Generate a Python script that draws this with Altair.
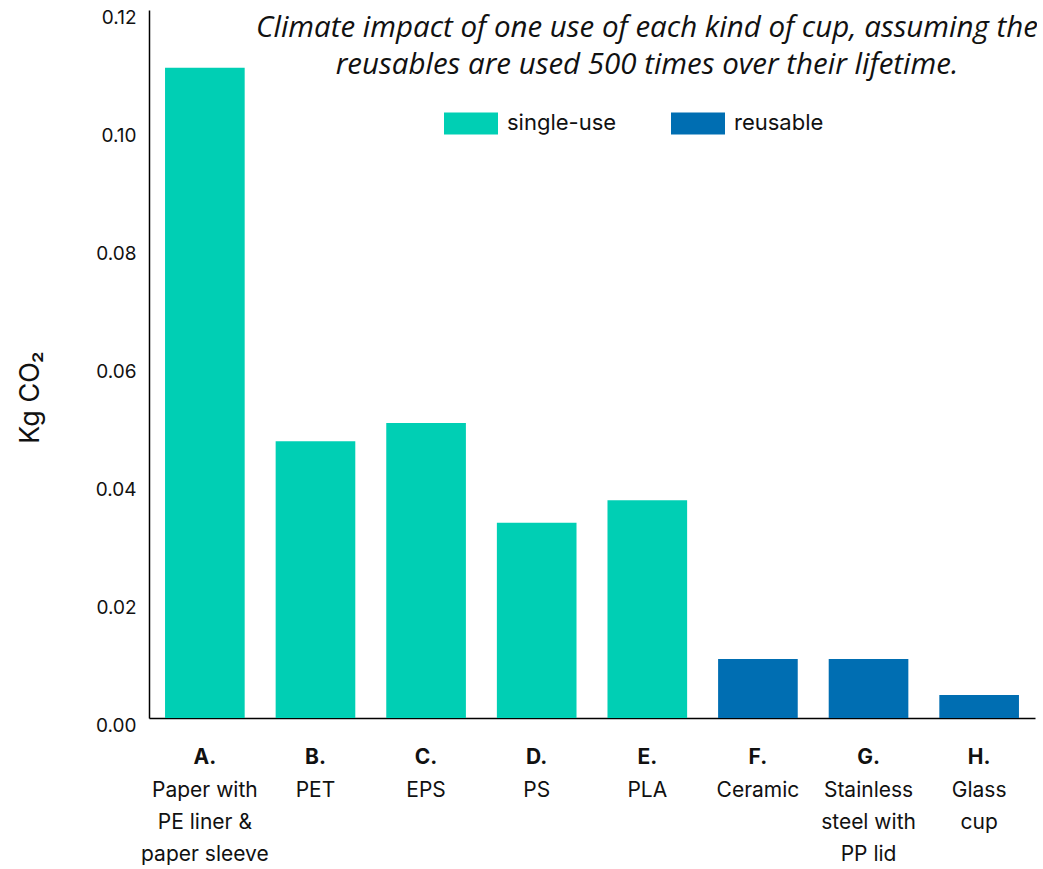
import altair as alt
import pandas as pd

letters = ["A.", "B.", "C.", "D.", "E.", "F.", "G.", "H."]
names = [
    "Paper with\nPE liner &\npaper sleeve",
    "PET",
    "EPS",
    "PS",
    "PLA",
    "Ceramic",
    "Stainless\nsteel with\nPP lid",
    "Glass\ncup",
]
kinds = ["single-use"] * 5 + ["reusable"] * 3
values = [0.1102, 0.0469, 0.0500, 0.0331, 0.0369, 0.0100, 0.0100, 0.0039]

df = pd.DataFrame({"letter": letters, "name": names, "kind": kinds, "value": values})

W, H = 886, 708
FONT = "Inter"

x = alt.X(
    "name:N",
    sort=names,
    scale=alt.Scale(paddingInner=0.28, paddingOuter=0.145),
    axis=alt.Axis(
        title=None,
        labelExpr="split(datum.label, '\\n')",
        labelAngle=0,
        labelPadding=61,
        labelFontSize=21,
        labelFont=FONT,
        labelColor="#111111",
        labelLineHeight=32,
        labelBaseline="top",
        ticks=False,
        domainColor="#000000",
        domainWidth=1.5,
        labelLimit=200,
    ),
)

bars = alt.Chart(df).mark_bar().encode(
    x=x,
    y=alt.Y(
        "value:Q",
        scale=alt.Scale(domain=[0, 0.12]),
        axis=alt.Axis(
            title="Kg CO₂",
            values=[0, 0.02, 0.04, 0.06, 0.08, 0.10, 0.12],
            format=".2f",
            grid=False,
            ticks=False,
            domainColor="#000000",
            domainWidth=1.5,
            labelFontSize=19,
            labelFont=FONT,
            labelColor="#111111",
            labelPadding=13,
            labelOffset=7,
            titleFont=FONT,
            titleFontSize=27,
            titleFontWeight="normal",
            titleColor="#111111",
            titleX=-119,
            titleY=387,
            titleAngle=270,
            titleAlign="center",
            titleBaseline="middle",
        ),
    ),
    color=alt.Color(
        "kind:N",
        scale=alt.Scale(domain=["single-use", "reusable"], range=["#00CFB4", "#006EB2"]),
        legend=alt.Legend(
            title=None,
            orient="none",
            direction="horizontal",
            legendX=295,
            legendY=86,
            symbolType="M-1,-0.41H1V0.41H-1Z",
            symbolSize=2916,
            symbolStrokeWidth=0,
            symbolOpacity=1,
            labelFont=FONT,
            labelFontSize=22,
            labelColor="#111111",
            labelOffset=9,
            columnPadding=54,
        ),
    ),
)

letter_text = alt.Chart(df).mark_text(
    font=FONT, fontSize=21, fontWeight="bold", color="#111111", baseline="middle"
).encode(
    x=alt.X("name:N", sort=names),
    y=alt.value(H + 40),
    text="letter:N",
)

chart = (
    alt.layer(bars, letter_text)
    .properties(
        width=W,
        height=H,
        title=alt.TitleParams(
            text=[
                "Climate impact of one use of each kind of cup, assuming the",
                "reusables are used 500 times over their lifetime.",
            ],
            font="Open Sans",
            fontSize=29.5,
            fontStyle="italic",
            fontWeight="normal",
            color="#111111",
            anchor="middle",
            baseline="top",
            lineHeight=37,
            dx=55,
            dy=76,
            orient="top",
            frame="group",
        ),
        autosize=alt.AutoSizeParams(type="none"),
        padding={"left": 149, "top": 10, "right": 2, "bottom": 151},
    )
    .configure_view(stroke=None)
)

chart.save("out.html", embed_options={"renderer": "svg", "actions": False})
